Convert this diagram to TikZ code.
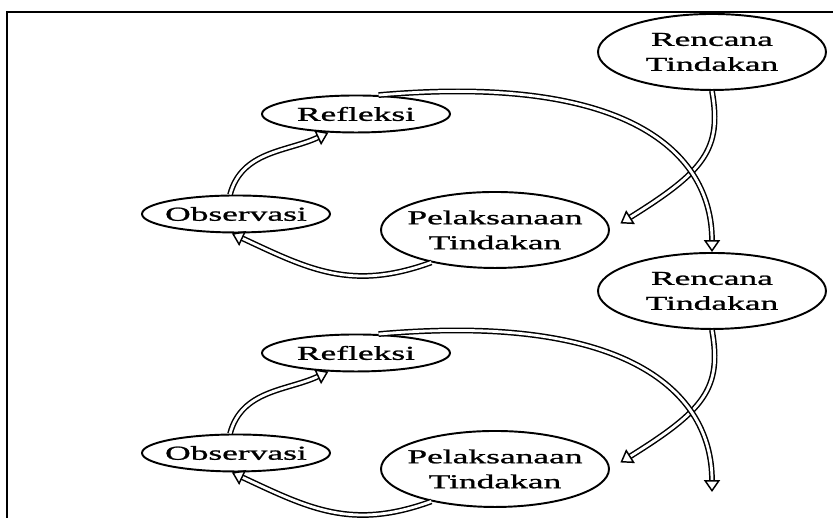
\documentclass[tikz,border=0pt]{standalone}
\usepackage{fontspec}
\newfontfamily\cyclefont[FakeStretch=1.8, FakeBold=1.2]{Liberation Serif}
\usepackage{tikz}
\usetikzlibrary{shapes.geometric}
\usetikzlibrary{arrows.meta}
\tikzstyle{elb}=[draw, shape=ellipse, line width=0.55pt, inner xsep=-0.5cm, inner ysep=-0.2cm, minimum width=2.28cm, minimum height=0.76cm, align=center, font=\cyclefont\fontsize{5.6}{7.1}\selectfont]
\tikzstyle{els}=[elb, minimum width=1.88cm, minimum height=0.37cm]
\tikzstyle{darrow}=[double, line width=0.42pt, double distance=0.8pt, -{Triangle[open, length=3.4pt, width=4.6pt]}]
\tikzstyle{frame}=[line width=0.6pt]
\def\elb{\node[style=elb]}
\def\els{\node[style=els]}
\def\darrow{\draw[style=darrow]}
\begin{document}
\begin{tikzpicture}[scale=1.0]
      \useasboundingbox (0,0) rectangle (8.33,5.18);
      \draw[style=frame] (8.33,5.06) -| (0.07,0);
      % next
      \elb (Rnode0) at (7.12,4.66) {Rencana\\Tindakan};
      \els (Fnode0) at (3.56,4.04) {Refleksi};
      \els (Onode0) at (2.36,3.04) {Observasi};
      \elb (Pnode0) at (4.95,2.88) {Pelaksanaan\\Tindakan};

      \darrow [shorten >=3.5pt] (Rnode0.south) to [out=-80, in=32, out distance=0.6cm, in distance=1.1cm] (Pnode0.east);
      \darrow (Pnode0.207) to [out=200, in=-25, out distance=0.85cm, in distance=0.85cm] (Onode0.258);
      \darrow (Onode0.107) to [out=75, in=205] (Fnode0.214);
      % next
      \elb (Rnode1) at (7.12,2.27) {Rencana\\Tindakan};
      \els (Fnode1) at (3.56,1.65) {Refleksi};
      \els (Onode1) at (2.36,0.65) {Observasi};
      \elb (Pnode1) at (4.95,0.49) {Pelaksanaan\\Tindakan};
      \coordinate (Rnode2) at (7.12,0.26);

      \darrow (Fnode0.40) to [out=5, in=90, out distance=2.5cm, in distance=1.0cm] (Rnode1.north);
      \darrow [shorten >=3.5pt] (Rnode1.south) to [out=-80, in=32, out distance=0.6cm, in distance=1.1cm] (Pnode1.east);
      \darrow (Pnode1.207) to [out=200, in=-25, out distance=0.85cm, in distance=0.85cm] (Onode1.258);
      \darrow (Onode1.107) to [out=75, in=205] (Fnode1.214);
      \darrow (Fnode1.40) to [out=5, in=90, out distance=2.5cm, in distance=1.0cm] (Rnode2);

\end{tikzpicture}
\end{document}
